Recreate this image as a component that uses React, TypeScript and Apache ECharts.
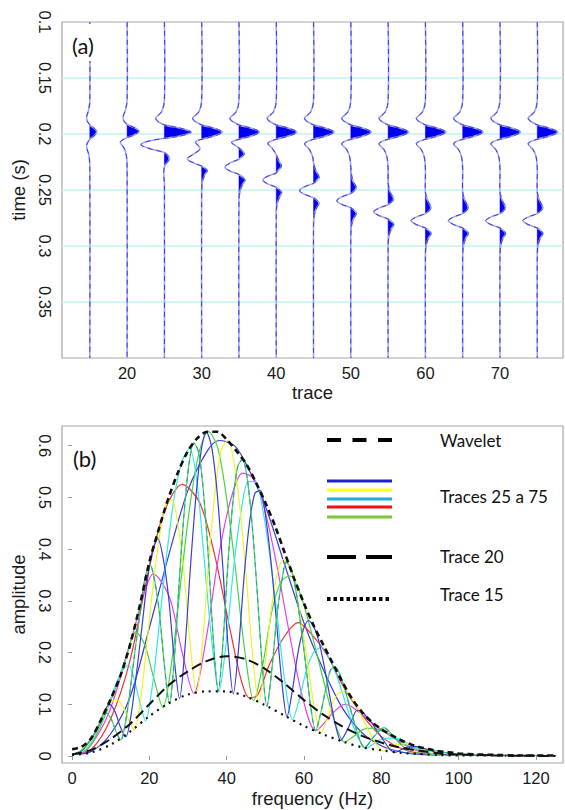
import React, { useEffect, useRef } from 'react';
import * as echarts from 'echarts';

// ---------- Panel (a): wiggle traces ----------
const TRACE_X = [15, 20, 25, 30, 35, 40, 45, 50, 55, 60, 65, 70, 75];
const X_TICKS_A = [20, 30, 40, 50, 60, 70];

// [time (s), normalised amplitude]
const TOP_EVENT = [[0.1, 0], [0.17, 0], [0.1803, -0.14], [0.1862, -0.44], [0.1919, 0], [0.1948, 0.6], [0.1983, 1.0], [0.2018, 0.6], [0.2047, 0]];
const W15 = [[0.1, 0], [0.17, 0], [0.178, -0.05], [0.1862, -0.16], [0.1919, 0], [0.1948, 0.2], [0.1983, 0.34], [0.2018, 0.2], [0.2047, 0], [0.2105, -0.16], [0.2185, -0.05], [0.228, 0], [0.4, 0]];
const W20 = [[0.1, 0], [0.17, 0], [0.1785, -0.08], [0.186, -0.2], [0.1915, 0], [0.1945, 0.38], [0.1975, 0.57], [0.2008, 0.35], [0.2032, 0], [0.2072, -0.33], [0.2128, -0.14], [0.22, -0.03], [0.23, 0], [0.4, 0]];
const W25 = [[0.1, 0], [0.17, 0], [0.1803, -0.14], [0.1862, -0.42], [0.1919, 0], [0.1948, 0.78], [0.1983, 1.3], [0.2018, 0.75], [0.2038, 0], [0.2065, -0.8], [0.2095, -1.14], [0.2132, -0.7], [0.2165, 0], [0.2195, 0.18], [0.2225, 0.24], [0.2265, 0.08], [0.229, 0], [0.236, -0.03], [0.245, 0], [0.4, 0]];
const W30 = [...TOP_EVENT, [0.207, -0.3], [0.2105, -0.16], [0.2135, -0.08], [0.2175, -0.35], [0.2223, -0.7], [0.2262, -0.35], [0.2287, 0], [0.2325, 0.27], [0.2365, 0.15], [0.242, 0.04], [0.25, 0], [0.4, 0]];
const W35 = [...TOP_EVENT, [0.2075, -0.36], [0.2105, -0.15], [0.2125, 0], [0.2152, 0.18], [0.218, 0.26], [0.2205, 0.12], [0.2225, 0], [0.226, -0.45], [0.2297, -0.68], [0.2332, -0.42], [0.2361, 0], [0.2392, 0.22], [0.2416, 0.29], [0.2455, 0.16], [0.2505, 0.06], [0.258, 0], [0.4, 0]];
const W40 = [...TOP_EVENT, [0.2082, -0.41], [0.2132, -0.18], [0.2185, 0], [0.2235, 0.12], [0.2285, 0.25], [0.232, 0.12], [0.2348, 0], [0.238, -0.45], [0.2412, -0.65], [0.2445, -0.42], [0.2476, 0], [0.2505, 0.2], [0.2527, 0.26], [0.257, 0.14], [0.263, 0.04], [0.27, 0], [0.4, 0]];
const W45 = [...TOP_EVENT, [0.2085, -0.43], [0.214, -0.2], [0.2205, -0.04], [0.226, 0], [0.232, 0.1], [0.2386, 0.27], [0.2418, 0.14], [0.2441, 0], [0.2472, -0.45], [0.2505, -0.68], [0.2538, -0.45], [0.2569, 0], [0.2598, 0.2], [0.262, 0.27], [0.266, 0.15], [0.272, 0.04], [0.28, 0], [0.4, 0]];
const W50 = [...TOP_EVENT, [0.2085, -0.44], [0.214, -0.2], [0.221, -0.05], [0.23, 0], [0.236, 0.03], [0.242, 0.1], [0.248, 0.27], [0.2512, 0.14], [0.2531, 0], [0.2562, -0.45], [0.2595, -0.68], [0.2628, -0.45], [0.2659, 0], [0.2688, 0.2], [0.271, 0.27], [0.275, 0.15], [0.281, 0.04], [0.289, 0], [0.4, 0]];
const W55 = [...TOP_EVENT, [0.2085, -0.44], [0.214, -0.2], [0.221, -0.05], [0.232, 0], [0.245, 0.01], [0.252, 0.1], [0.258, 0.27], [0.2612, 0.14], [0.2631, 0], [0.2662, -0.45], [0.2695, -0.7], [0.2728, -0.45], [0.2759, 0], [0.2788, 0.2], [0.281, 0.27], [0.285, 0.15], [0.291, 0.04], [0.299, 0], [0.4, 0]];
const W60 = [...TOP_EVENT, [0.2085, -0.44], [0.214, -0.2], [0.221, -0.05], [0.232, 0], [0.252, 0], [0.259, 0.1], [0.2658, 0.27], [0.2692, 0.14], [0.2711, 0], [0.2742, -0.45], [0.2775, -0.7], [0.2808, -0.45], [0.2839, 0], [0.2868, 0.2], [0.289, 0.27], [0.293, 0.15], [0.299, 0.04], [0.307, 0], [0.4, 0]];
const W65 = W60;
const W70 = W60;
const W75 = W60;
const WIGGLES = [W15, W20, W25, W30, W35, W40, W45, W50, W55, W60, W65, W70, W75];
const GAIN = 2.75; // trace units per unit amplitude

// ---------- Panel (b): amplitude spectra ----------
const X_TICKS_B = [0, 20, 40, 60, 80, 100, 120];
const Y_TICKS_B = [0, 0.1, 0.2, 0.3, 0.4, 0.5, 0.6];

const SPEC_WAVELET = [[0, .013], [2.5, .018], [5, .035], [7.5, .07], [10, .11], [12.5, .155], [15, .215], [17.5, .29], [20, .375], [22.5, .44], [25, .5], [27.5, .55], [30, .59], [32.5, .615], [35, .627], [37.5, .627], [40, .612], [42.5, .59], [45, .565], [47.5, .53], [50, .49], [52.5, .445], [55, .393], [57.5, .342], [60, .295], [62.5, .252], [65, .215], [67.5, .178], [70, .142], [72.5, .11], [75, .085], [77.5, .066], [80, .052], [82.5, .041], [85, .031], [87.5, .023], [90, .017], [92.5, .013], [95, .009], [97.5, .007], [100, .005], [105, .003], [110, .002], [115, .001], [120, .001], [125, .001]];
const SPEC_T20 = [[0, .003], [5, .012], [10, .033], [15, .062], [20, .1], [25, .137], [30, .164], [35, .184], [40, .193], [45, .187], [50, .168], [55, .14], [60, .108], [65, .08], [70, .057], [75, .039], [80, .026], [85, .016], [90, .01], [95, .005], [100, .003], [110, .001], [125, 0]];
const SPEC_T15 = [[0, .002], [5, .007], [10, .022], [15, .047], [20, .077], [25, .102], [30, .119], [35, .125], [40, .125], [45, .115], [50, .098], [55, .078], [60, .058], [65, .042], [70, .028], [75, .017], [80, .011], [85, .006], [90, .004], [95, .002], [100, .001], [110, .001], [125, 0]];
const SPEC_T25 = [[0, .003], [5, .009], [10, .043], [15, .114], [20, .248], [25, .388], [30, .514], [35, .59], [38, .61], [42, .6], [45, .565], [50, .483], [55, .37], [60, .257], [65, .167], [70, .092], [75, .045], [80, .02], [85, .008], [90, .003], [95, .002], [100, .002], [110, .001], [125, .001]];
const SPEC_T30 = [[0, .003], [5, .013], [10, .072], [15, .185], [20, .365], [24, .475], [28.5, .525], [33, .49], [37, .385], [41, .24], [44, .14], [46, .112], [48, .118], [51, .176], [55, .232], [58.5, .258], [62, .235], [66, .195], [70, .137], [75, .08], [80, .038], [85, .015], [90, .005], [95, .003], [100, .002], [110, .001], [125, .001]];
const SPEC_T35 = [[0, .003], [3.8, .011], [9.5, .083], [15.75, .237], [18.9, .321], [21, .352], [25.2, .307], [28.4, .203], [31.5, .121], [34.65, .225], [37.8, .381], [40.95, .493], [44.1, .547], [47.25, .534], [50.4, .459], [53.55, .346], [56.7, .218], [59.85, .107], [63, .049], [67.7, .085], [70.5, .1], [72.45, .095], [77.2, .067], [81.9, .041], [86.6, .019], [91.35, .005], [94.5, .002], [100, .002], [110, .001], [125, .001]];
const SPEC_T40 = [[0, .003], [2.35, .006], [4.7, .02], [7.05, .052], [9.4, .095], [11.75, .141], [14.1, .195], [16.45, .24], [18.8, .215], [21.15, .15], [23.5, .094], [25.85, .186], [28.2, .341], [30.55, .487], [32.9, .588], [35.25, .627], [37.6, .598], [39.95, .5], [42.3, .36], [44.65, .205], [47, .107], [49.35, .177], [51.7, .28], [54.05, .337], [56.4, .348], [58.75, .319], [61.1, .262], [63.45, .194], [65.8, .124], [68.15, .061], [70.5, .027], [72.85, .038], [75.2, .051], [77.55, .054], [79.9, .05], [82.25, .042], [84.6, .03], [86.95, .02], [89.3, .012], [91.65, .005], [94, .002], [100, .002], [110, .001], [125, .001]];
const SPEC_T45 = [[0, .003], [1.9, .006], [3.8, .016], [5.7, .036], [7.6, .069], [9.5, .1], [11.4, .14], [13.3, .168], [14.6, .176], [16, .15], [17.5, .105], [19, .068], [20.9, .143], [22.8, .272], [24.7, .403], [26.6, .507], [28.5, .57], [30.4, .595], [32.3, .53], [34.2, .379], [36.1, .226], [38, .125], [39.9, .221], [41.8, .364], [43.7, .472], [45.6, .531], [47.5, .53], [49.4, .473], [51.3, .38], [53.2, .262], [55.1, .141], [57, .07], [58.9, .113], [60.8, .171], [62.7, .202], [64.6, .21], [66.5, .19], [68.4, .157], [70.3, .113], [72.2, .069], [74.1, .034], [76, .015], [79.8, .032], [83.6, .035], [87.4, .022], [91.2, .009], [95, .002], [100, .002], [110, .001], [125, .001]];
const SPEC_T50 = [[0, .003], [1.6, .006], [3.2, .013], [4.8, .028], [6.4, .05], [8.05, .079], [9.7, .1], [11.3, .109], [12.9, .099], [14.5, .073], [16.1, .05], [17.7, .107], [19.3, .214], [20.9, .325], [22.5, .419], [24.15, .484], [25.8, .495], [27.4, .448], [29, .35], [30.6, .213], [32.2, .122], [33.8, .224], [35.4, .382], [37, .512], [38.6, .592], [40.25, .61], [41.9, .567], [43.5, .475], [45.1, .343], [46.7, .195], [48.3, .104], [49.9, .177], [51.5, .282], [53.1, .353], [54.7, .38], [56.35, .365], [58, .317], [59.6, .247], [61.2, .166], [62.8, .089], [64.4, .045], [66, .072], [67.6, .107], [69.2, .123], [70.8, .125], [72.45, .11], [74.1, .089], [75.7, .065], [77.3, .041], [78.9, .021], [80.5, .01], [83.7, .022], [86.9, .024], [90.1, .016], [93.3, .007], [96.6, .002], [100, .002], [110, .001], [125, .001]];
const SPEC_T55 = [[0, .003], [1.4, .006], [2.8, .012], [4.2, .025], [5.6, .041], [6.95, .059], [8.3, .086], [9.7, .1], [11.1, .086], [12.5, .056], [13.9, .037], [15.3, .081], [16.7, .162], [18.1, .251], [19.5, .341], [20.85, .398], [22.2, .42], [23.6, .381], [25, .305], [26.4, .19], [27.8, .111], [29.2, .208], [30.6, .362], [32, .498], [33.4, .59], [34.75, .626], [36.1, .598], [37.5, .512], [38.9, .376], [40.3, .219], [41.7, .12], [43.1, .21], [44.5, .347], [45.9, .451], [47.3, .508], [48.65, .513], [50, .467], [51.4, .38], [52.8, .267], [54.2, .148], [55.6, .076], [57, .127], [58.4, .198], [59.8, .244], [61.2, .262], [62.55, .25], [63.9, .22], [65.3, .171], [66.7, .114], [68.1, .061], [69.5, .03], [70.9, .046], [72.3, .068], [73.7, .088], [75.1, .085], [76.45, .073], [77.8, .061], [79.2, .045], [80.6, .03], [82, .015], [83.4, .007], [86.2, .016], [89, .018], [91.8, .013], [94.6, .006], [97.3, .002], [100, .002], [110, .001], [125, .001]];
const SPEC_T60 = [[0, .003], [1.26, .006], [2.52, .011], [3.78, .022], [5.04, .034], [6.3, .05], [7.56, .072], [8.5, .085], [10.08, .072], [11.34, .048], [12.6, .031], [13.86, .067], [15.12, .133], [16.38, .209], [17.64, .28], [18.9, .345], [20.16, .37], [21.42, .337], [22.68, .271], [23.94, .171], [25.2, .101], [26.46, .19], [27.72, .337], [28.98, .469], [30.24, .564], [31.5, .605], [32.76, .587], [34.02, .508], [35.28, .382], [36.54, .226], [37.8, .125], [39.06, .222], [40.32, .371], [41.58, .489], [42.84, .559], [44.1, .574], [45.36, .534], [46.62, .444], [47.88, .319], [49.14, .181], [50.4, .096], [51.66, .166], [52.92, .266], [54.18, .335], [55.44, .375], [56.7, .362], [57.96, .317], [59.22, .249], [60.48, .175], [61.74, .095], [63, .049], [64.26, .081], [65.52, .126], [66.78, .165], [68.04, .172], [69.3, .158], [70.56, .129], [71.82, .096], [73.08, .063], [74.34, .033], [75.6, .016], [78.12, .038], [80.64, .055], [83.16, .038], [85.68, .018], [88.2, .004], [90.72, .01], [93.24, .011], [95.76, .008], [98.28, .004], [100.8, .001], [110, .001], [125, .001]];
const SPEC_T65_75 = SPEC_T60;

const LEGEND_LABELS = ['Wavelet', 'Traces 25 a 75', 'Trace 20', 'Trace 15'];

const TICK_FONT = "'Liberation Sans', Arial, sans-serif";
const TEXT_FONT = "Lato, 'Liberation Sans', sans-serif";

function buildOption() {
  const colouredSeries = [
    { data: SPEC_T25, color: '#3b3bdc', type: 'solid' },
    { data: SPEC_T30, color: '#f03232', type: 'solid' },
    { data: SPEC_T35, color: '#ec40ec', type: 'solid' },
    { data: SPEC_T40, color: '#44d444', type: 'solid' },
    { data: SPEC_T45, color: '#30e8e8', type: 'solid' },
    { data: SPEC_T50, color: '#f2f22a', type: 'solid' },
    { data: SPEC_T55, color: '#3b3bdc', type: 'solid' },
    { data: SPEC_T60, color: '#50d050', type: 'solid' },
    { data: SPEC_T65_75, color: '#2aa8a8', type: [5, 4] },
  ].map((s) => ({
    type: 'line',
    xAxisIndex: 1,
    yAxisIndex: 1,
    data: s.data,
    showSymbol: false,
    smooth: 0.3,
    lineStyle: { color: s.color, width: 1.2, type: s.type },
    z: 2,
  }));

  const blackSeries = [
    { data: SPEC_T15, type: [2, 5], width: 2.2 },
    { data: SPEC_T20, type: [10, 5], width: 2 },
    { data: SPEC_WAVELET, type: [6, 4], width: 2.6 },
  ].map((s) => ({
    type: 'line',
    xAxisIndex: 1,
    yAxisIndex: 1,
    data: s.data,
    showSymbol: false,
    smooth: 0.3,
    lineStyle: { color: '#111', width: s.width, type: s.type },
    z: 4,
  }));

  const wiggleSeries = {
    type: 'custom',
    xAxisIndex: 0,
    yAxisIndex: 0,
    data: TRACE_X.map((x, i) => [x, i]),
    z: 3,
    renderItem: (params: any, api: any) => {
      const idx = params.dataIndex as number;
      const x0 = TRACE_X[idx];
      const pts = WIGGLES[idx];
      if (!pts) return { type: 'group', children: [] };
      const line = pts.map(([t, a]) => api.coord([x0 + GAIN * a, t]));
      const children: any[] = [];
      let i = 1;
      while (i < pts.length) {
        if (pts[i][1] > 0) {
          const start = i - 1;
          let end = i;
          while (end < pts.length - 1 && pts[end][1] > 0) end++;
          const lobe: number[][] = [api.coord([x0, pts[start][0]])];
          for (let k = i; k < end; k++) lobe.push(line[k]);
          lobe.push(api.coord([x0, pts[end][0]]));
          let minX = Infinity, minY = Infinity, maxX = -Infinity, maxY = -Infinity;
          for (const p of lobe) {
            minX = Math.min(minX, p[0]); maxX = Math.max(maxX, p[0]);
            minY = Math.min(minY, p[1]); maxY = Math.max(maxY, p[1]);
          }
          children.push({
            type: 'polygon',
            shape: { points: lobe, smooth: 0.35, smoothConstraint: [[minX, minY], [maxX, maxY]] },
            style: { fill: '#0000ee', stroke: '#0000ee', lineWidth: 0.5 },
          });
          i = end + 1;
        } else i++;
      }
      children.push({
        type: 'polyline',
        shape: { points: line, smooth: 0.35 },
        style: { stroke: '#a4a4f2', lineWidth: 1.6, fill: 'none' },
      });
      children.push({
        type: 'polyline',
        shape: { points: line, smooth: 0.35 },
        style: { stroke: '#3a3ae0', lineWidth: 1, lineDash: [5, 4], fill: 'none' },
      });
      return { type: 'group', children };
    },
  };

  const legendX1 = 327;
  const legendX2 = 392;
  const legendColours = ['#2323cc', '#ffff22', '#22acdc', '#ee1111', '#7cc83c'];
  const legendColourY = [481, 490, 499, 507, 517];

  const graphic: any[] = [
    { type: 'rect', shape: { x: 64, y: 24, width: 50, height: 37 }, style: { fill: '#fff' }, z: 100 },
    { type: 'text', x: 72, y: 45.5, style: { text: '(a)', fontSize: 22, fontFamily: TEXT_FONT, fill: '#111', align: 'left', verticalAlign: 'middle' }, z: 101 },
    { type: 'text', x: 73, y: 458, style: { text: '(b)', fontSize: 22, fontFamily: TEXT_FONT, fill: '#111', align: 'left', verticalAlign: 'middle' }, z: 101 },
    { type: 'line', shape: { x1: legendX1, y1: 440, x2: legendX2, y2: 440 }, style: { stroke: '#000', lineWidth: 4, lineDash: [14, 11.5] }, z: 101 },
    { type: 'line', shape: { x1: legendX1, y1: 557, x2: legendX2, y2: 557 }, style: { stroke: '#000', lineWidth: 4, lineDash: [29, 10] }, z: 101 },
    { type: 'line', shape: { x1: legendX1, y1: 599, x2: legendX2, y2: 599 }, style: { stroke: '#000', lineWidth: 4, lineDash: [3.5, 3] }, z: 101 },
    ...legendColours.map((c, k) => ({
      type: 'line',
      shape: { x1: legendX1, y1: legendColourY[k], x2: legendX2, y2: legendColourY[k] },
      style: { stroke: c, lineWidth: 3 },
      z: 101,
    })),
    ...[440, 496, 556, 594].map((y, k) => ({
      type: 'text',
      x: 440,
      y,
      style: { text: LEGEND_LABELS[k], fontSize: 17, fontFamily: TEXT_FONT, fill: '#111', align: 'left', verticalAlign: 'middle' },
      z: 101,
    })),
  ];

  const tickLabel = { fontSize: 16.5, fontFamily: TICK_FONT, color: '#1a1a1a' };
  const axisName = { fontSize: 18.5, fontFamily: TICK_FONT, color: '#1a1a1a' };

  return {
    animation: false,
    backgroundColor: '#fff',
    grid: [
      { left: 62, top: 22, width: 501, height: 336, show: true, borderColor: '#a6a6a6', borderWidth: 1.2, backgroundColor: 'transparent', containLabel: false, outerBoundsMode: 'none' },
      { left: 62, top: 426, width: 501, height: 337, show: true, borderColor: '#a6a6a6', borderWidth: 1.2, backgroundColor: 'transparent', containLabel: false, outerBoundsMode: 'none' },
    ],
    xAxis: [
      {
        type: 'value', gridIndex: 0, min: 11.27, max: 78.45,
        axisLine: { show: false }, splitLine: { show: false },
        axisTick: { show: false },
        axisLabel: { ...tickLabel, margin: 6, customValues: X_TICKS_A },
        name: 'trace', nameLocation: 'middle', nameGap: 25, nameTextStyle: axisName,
      },
      {
        type: 'value', gridIndex: 1, min: -2.6, max: 127,
        axisLine: { show: false }, splitLine: { show: false },
        axisTick: { show: true, length: 4, customValues: X_TICKS_B, lineStyle: { color: '#999' } },
        axisLabel: { ...tickLabel, margin: 6.5, customValues: X_TICKS_B },
        name: 'frequency (Hz)', nameLocation: 'middle', nameGap: 26, nameTextStyle: axisName,
      },
    ],
    yAxis: [
      {
        type: 'value', gridIndex: 0, inverse: true, min: 0.1, max: 0.4, interval: 0.05,
        axisLine: { show: false }, axisTick: { show: false },
        splitLine: { show: true, showMinLine: false, showMaxLine: false, lineStyle: { color: '#c6f2f5', width: 1.5 } },
        axisLabel: {
          ...tickLabel, rotate: -90, margin: 9,
          formatter: (v: number) => (v > 0.39 ? '' : String(parseFloat(v.toFixed(2)))),
        },
        name: 'time (s)', nameLocation: 'middle', nameGap: 26.5, nameTextStyle: axisName,
      },
      {
        type: 'value', gridIndex: 1, min: -0.0135, max: 0.638,
        axisLine: { show: false }, splitLine: { show: false },
        axisTick: { show: true, length: 4, customValues: Y_TICKS_B, lineStyle: { color: '#999' } },
        axisLabel: {
          ...tickLabel, rotate: -90, margin: 9, customValues: Y_TICKS_B,
          formatter: (v: number) => String(Math.round(v * 10) / 10),
        },
        name: 'amplitude', nameLocation: 'middle', nameGap: 27, nameTextStyle: axisName,
      },
    ],
    series: [wiggleSeries, ...colouredSeries, ...blackSeries],
    graphic,
  };
}

export default function App() {
  const ref = useRef<HTMLDivElement>(null);
  useEffect(() => {
    document.body.style.margin = '0';
    const chart = echarts.init(ref.current!, null, { renderer: 'svg' });
    chart.setOption(buildOption() as any);
    return () => chart.dispose();
  }, []);
  return <div ref={ref} style={{ width: 565, height: 810 }} />;
}
